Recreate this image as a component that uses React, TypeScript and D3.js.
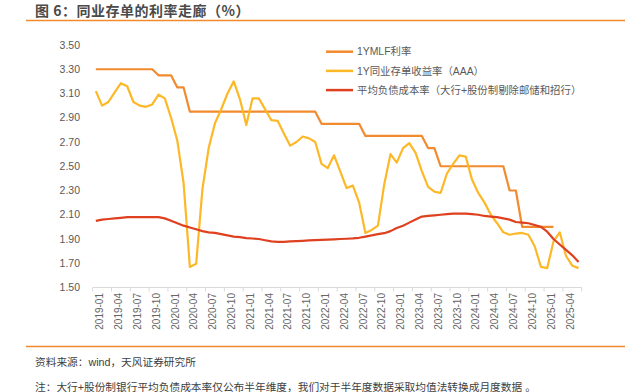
import React from "react";
import * as d3 from "d3";

const years = [2019, 2020, 2021, 2022, 2023, 2024, 2025];
const months: string[] = [];
years.forEach((y) => {
  for (let m = 1; m <= 12; m++) {
    if (y === 2025 && m > 6) break;
    months.push(`${y}-${String(m).padStart(2, "0")}`);
  }
});

const yTicks = [1.5, 1.7, 1.9, 2.1, 2.3, 2.5, 2.7, 2.9, 3.1, 3.3, 3.5];

const mlf: (number | null)[] = [
  3.3, 3.3, 3.3, 3.3, 3.3, 3.3, 3.3, 3.3, 3.3, 3.3,
  3.25, 3.25, 3.25,
  3.15, 3.15,
  2.95, 2.95, 2.95, 2.95, 2.95, 2.95, 2.95, 2.95, 2.95, 2.95, 2.95, 2.95, 2.95, 2.95, 2.95, 2.95, 2.95, 2.95, 2.95, 2.95, 2.95,
  2.85, 2.85, 2.85, 2.85, 2.85, 2.85, 2.85,
  2.75, 2.75, 2.75, 2.75, 2.75, 2.75, 2.75, 2.75, 2.75, 2.75,
  2.65, 2.65,
  2.5, 2.5, 2.5, 2.5, 2.5, 2.5, 2.5, 2.5, 2.5, 2.5, 2.5,
  2.3, 2.3,
  2.0, 2.0, 2.0, 2.0, 2.0, 2.0,
  null, null, null, null,
];

const cdYield: number[] = [
  3.12, 3.0, 3.03, 3.11, 3.185, 3.16, 3.03, 3.0, 2.99, 3.01,
  3.09, 3.06, 2.9, 2.71, 2.36, 1.67, 1.695, 2.31, 2.65, 2.855,
  2.97, 3.1, 3.2, 3.05, 2.84, 3.06, 3.06, 2.97, 2.88, 2.875,
  2.77, 2.67, 2.7, 2.745, 2.73, 2.7, 2.52, 2.485, 2.59, 2.455,
  2.32, 2.34, 2.2, 1.95, 1.975, 2.01, 2.35, 2.6, 2.53, 2.65,
  2.69, 2.61, 2.46, 2.33, 2.29, 2.28, 2.44, 2.52, 2.59, 2.58,
  2.39, 2.28, 2.2, 2.1, 2.03, 1.955, 1.935, 1.945, 1.95, 1.935,
  1.84, 1.67, 1.66, 1.88, 1.955, 1.76, 1.68, 1.66,
];

const liabCost: number[] = [
  2.05, 2.06, 2.065, 2.07, 2.075, 2.08, 2.08, 2.08, 2.08, 2.08,
  2.08, 2.07, 2.05, 2.03, 2.01, 1.995, 1.98, 1.965, 1.955, 1.95,
  1.94, 1.93, 1.92, 1.915, 1.907, 1.904, 1.9, 1.89, 1.88, 1.876,
  1.876, 1.88, 1.883, 1.885, 1.888, 1.89, 1.892, 1.895, 1.897, 1.9,
  1.902, 1.905, 1.91, 1.92, 1.93, 1.94, 1.948, 1.965, 1.99, 2.01,
  2.035, 2.06, 2.085, 2.09, 2.095, 2.1, 2.105, 2.11, 2.11, 2.11,
  2.105, 2.1, 2.09, 2.085, 2.08, 2.07, 2.06, 2.04, 2.035, 2.03,
  2.015, 2.0, 1.96, 1.9, 1.855, 1.81, 1.765, 1.71,
];

const seriesNames = [
  "1YMLF利率",
  "1Y同业存单收益率（AAA）",
  "平均负债成本率（大行+股份制剔除邮储和招行）",
];
const seriesColors = ["#F28A2E", "#FDB827", "#DE4020"];

const title = "图 6：同业存单的利率走廊（%）";
const source = "资料来源：wind，天风证券研究所";
const note = "注：大行+股份制银行平均负债成本率仅公布半年维度，我们对于半年度数据采取均值法转换成月度数据 。";

const FONT = "'Liberation Sans', Arial, 'Noto Sans CJK SC', sans-serif";
const CJK = "'Liberation Sans', 'Noto Sans CJK SC', sans-serif";
const CJK_FIRST = "'Noto Sans CJK SC', sans-serif";

export default function App() {
  const W = 636;
  const H = 392;
  const x = d3.scaleBand<string>().domain(months).range([92.7, 581.7]).padding(0);
  const y = d3.scaleLinear().domain([1.5, 3.5]).range([287.5, 45]);
  const cx = (i: number) => (x(months[i]) as number) + x.bandwidth() / 2;

  const line = d3
    .line<number | null>()
    .defined((d) => d != null)
    .x((_, i) => cx(i))
    .y((d) => y(d as number));

  const series = [mlf, cdYield, liabCost];
  const tickIdx = months.map((_, i) => i).filter((i) => i % 3 === 0);
  const [x0, x1] = x.range();

  return (
    <div style={{ position: "absolute", left: 0, top: 0 }}>
      <svg width={W} height={H} style={{ display: "block", background: "#fff" }}>
        <text x={35} y={16} fontFamily={CJK_FIRST} fontSize={14} fontWeight={700} letterSpacing={0.5} fill="#4a4a4a">
          {title}
        </text>
        <line x1={26} x2={625} y1={20.5} y2={20.5} stroke="#F28A2E" strokeWidth={1.5} />

        {yTicks.map((t) => (
          <text
            key={t}
            x={80}
            y={y(t)}
            dy="0.35em"
            textAnchor="end"
            fontFamily={FONT}
            fontSize={10.5}
            fill="#595959"
          >
            {t.toFixed(2)}
          </text>
        ))}

        <line x1={x0} x2={x1} y1={287.5} y2={287.5} stroke="#D9D9D9" strokeWidth={1} />
        {tickIdx.map((i) => (
          <line
            key={"t" + i}
            x1={x(months[i]) as number}
            x2={x(months[i]) as number}
            y1={287.5}
            y2={291.5}
            stroke="#D9D9D9"
          />
        ))}
        <line x1={x1} x2={x1} y1={287.5} y2={291.5} stroke="#D9D9D9" />
        {tickIdx.map((i) => {
          const px = cx(i) + 4;
          return (
            <text
              key={"l" + i}
              transform={`translate(${px},293) rotate(-90)`}
              textAnchor="end"
              dy="0.35em"
              fontFamily={FONT}
              fontSize={10}
              fill="#666666"
            >
              {months[i]}
            </text>
          );
        })}

        {series.map((s, k) => (
          <path
            key={"s" + k}
            d={line(s) || ""}
            fill="none"
            stroke={seriesColors[k]}
            strokeWidth={2.2}
            strokeLinejoin="round"
          />
        ))}

        {seriesNames.map((n, k) => {
          const ly = 51.7 + k * 19.2;
          return (
            <g key={"lg" + k}>
              <line x1={326} x2={353} y1={ly} y2={ly} stroke={seriesColors[k]} strokeWidth={2.5} />
              <text x={357} y={ly} dy="0.35em" fontFamily={CJK} fontSize={10.4} fill="#595959">
                {n}
              </text>
            </g>
          );
        })}

        <line x1={26} x2={625} y1={346.5} y2={346.5} stroke="#F28A2E" strokeWidth={1.5} />
        <text x={35} y={362} dy="0.35em" fontFamily={CJK} fontSize={10.7} fill="#404040">
          {source}
        </text>
        <text x={35} y={387} dy="0.35em" fontFamily={CJK} fontSize={10.7} fill="#404040">
          {note}
        </text>
      </svg>
    </div>
  );
}
